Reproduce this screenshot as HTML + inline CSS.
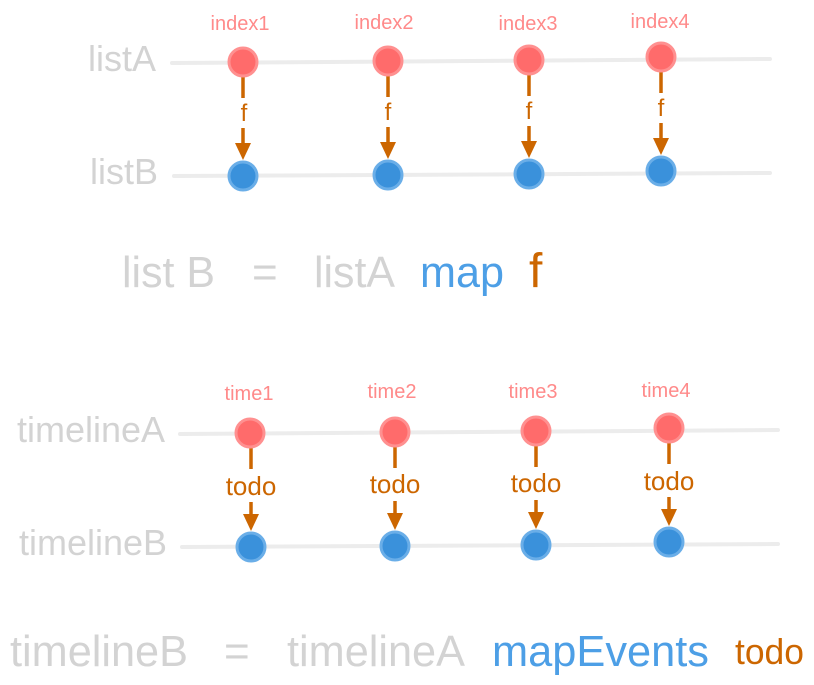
<!DOCTYPE html>
<html><head><meta charset="utf-8"><style>html,body{margin:0;padding:0;background:#fff}svg{display:block}</style></head>
<body>
<svg width="814" height="685" viewBox="0 0 814 685" xmlns="http://www.w3.org/2000/svg" font-family="Liberation Sans, sans-serif">
<defs>
<g id="ar"><polygon points="-8,0 8,0 0,17" fill="#cc6600"/></g>
</defs>
<!-- top lines -->
<line x1="172" y1="63" x2="770" y2="59" stroke="#ececec" stroke-width="4" stroke-linecap="round"/>
<line x1="174" y1="176" x2="770" y2="173" stroke="#ececec" stroke-width="4" stroke-linecap="round"/>
<text x="88" y="71" font-size="36" fill="#d3d3d3">listA</text>
<text x="90" y="184" font-size="36" fill="#d3d3d3">listB</text>
<g font-size="20" fill="#ff8a8a" text-anchor="middle">
<text x="240" y="30">index1</text><text x="384" y="29">index2</text><text x="528" y="30">index3</text><text x="660" y="28">index4</text>
</g>
<g stroke="#cc6600" stroke-width="3.5">
<line x1="243" y1="76" x2="243" y2="98"/><line x1="243" y1="128" x2="243" y2="145"/>
<line x1="388" y1="75" x2="388" y2="97"/><line x1="388" y1="127" x2="388" y2="144"/>
<line x1="529" y1="74" x2="529" y2="96"/><line x1="529" y1="126" x2="529" y2="143"/>
<line x1="661" y1="71" x2="661" y2="93"/><line x1="661" y1="123" x2="661" y2="140"/>
</g>
<use href="#ar" x="243" y="143"/><use href="#ar" x="388" y="142"/><use href="#ar" x="529" y="141"/><use href="#ar" x="661" y="138"/>
<g font-size="24" fill="#cc6600" text-anchor="middle">
<text x="244" y="121">f</text><text x="388" y="120">f</text><text x="529" y="119">f</text><text x="661" y="116">f</text>
</g>
<g fill="#ff6b6b" stroke="#ff9090" stroke-width="3">
<circle cx="243" cy="62" r="14"/><circle cx="388" cy="61" r="14"/><circle cx="529" cy="60" r="14"/><circle cx="661" cy="57" r="14"/>
</g>
<g fill="#3a91db" stroke="#6aaee8" stroke-width="3">
<circle cx="243" cy="176" r="14"/><circle cx="388" cy="175" r="14"/><circle cx="529" cy="174" r="14"/><circle cx="661" cy="171" r="14"/>
</g>
<!-- equation 1 -->
<g font-size="44">
<text x="122" y="287" fill="#d3d3d3" textLength="93" lengthAdjust="spacingAndGlyphs">list B</text>
<text x="252" y="287" fill="#d3d3d3">=</text>
<text x="314" y="287" fill="#d3d3d3" textLength="81" lengthAdjust="spacingAndGlyphs">listA</text>
<text x="420" y="287" fill="#4d9fe6" textLength="84" lengthAdjust="spacingAndGlyphs">map</text>
<text x="529" y="287" fill="#cc6600" font-size="48">f</text>
</g>
<!-- bottom lines -->
<line x1="180" y1="434" x2="778" y2="430" stroke="#ececec" stroke-width="4" stroke-linecap="round"/>
<line x1="182" y1="547" x2="778" y2="544" stroke="#ececec" stroke-width="4" stroke-linecap="round"/>
<text x="17" y="442" font-size="36" fill="#d3d3d3">timelineA</text>
<text x="19" y="555" font-size="36" fill="#d3d3d3">timelineB</text>
<g font-size="20" fill="#ff8a8a" text-anchor="middle">
<text x="249" y="400">time1</text><text x="392" y="398">time2</text><text x="533" y="398">time3</text><text x="666" y="397">time4</text>
</g>
<g stroke="#cc6600" stroke-width="3.5">
<line x1="251" y1="447" x2="251" y2="469"/><line x1="251" y1="502" x2="251" y2="516"/>
<line x1="395" y1="446" x2="395" y2="468"/><line x1="395" y1="501" x2="395" y2="515"/>
<line x1="536" y1="445" x2="536" y2="467"/><line x1="536" y1="500" x2="536" y2="514"/>
<line x1="669" y1="442" x2="669" y2="464"/><line x1="669" y1="497" x2="669" y2="511"/>
</g>
<use href="#ar" x="251" y="514"/><use href="#ar" x="395" y="513"/><use href="#ar" x="536" y="512"/><use href="#ar" x="669" y="509"/>
<g font-size="26" fill="#cc6600" text-anchor="middle">
<text x="251" y="495">todo</text><text x="395" y="493">todo</text><text x="536" y="492">todo</text><text x="669" y="490">todo</text>
</g>
<g fill="#ff6b6b" stroke="#ff9090" stroke-width="3">
<circle cx="250" cy="433" r="14"/><circle cx="395" cy="432" r="14"/><circle cx="536" cy="431" r="14"/><circle cx="669" cy="428" r="14"/>
</g>
<g fill="#3a91db" stroke="#6aaee8" stroke-width="3">
<circle cx="251" cy="547" r="14"/><circle cx="395" cy="546" r="14"/><circle cx="536" cy="545" r="14"/><circle cx="669" cy="542" r="14"/>
</g>
<!-- equation 2 -->
<g font-size="44">
<text x="10" y="666" fill="#d3d3d3" textLength="178" lengthAdjust="spacingAndGlyphs">timelineB</text>
<text x="224" y="666" fill="#d3d3d3">=</text>
<text x="287" y="666" fill="#d3d3d3" textLength="178" lengthAdjust="spacingAndGlyphs">timelineA</text>
<text x="492" y="666" fill="#4d9fe6" textLength="217" lengthAdjust="spacingAndGlyphs">mapEvents</text>
<text x="735" y="664" fill="#cc6600" font-size="36" textLength="69" lengthAdjust="spacingAndGlyphs">todo</text>
</g>
</svg>
</body></html>
